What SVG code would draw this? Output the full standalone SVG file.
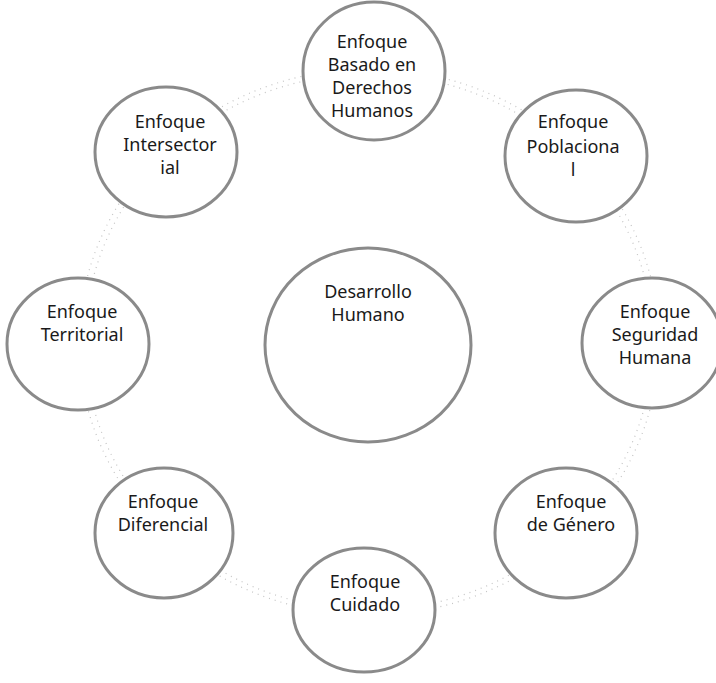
<svg xmlns="http://www.w3.org/2000/svg" width="716" height="683" viewBox="0 0 716 683">
<style>
.node{fill:#fff;stroke:#8a8a8a;stroke-width:3}
.lbl{font-family:"Noto Sans","Open Sans",sans-serif;font-size:18px;fill:#1a1a1a;text-anchor:middle}
.ring{fill:none;stroke:#c4c4c4;stroke-width:1.2;stroke-dasharray:1 5}
</style>
<rect width="716" height="683" fill="#fff"/>
<g id="connectors">
<ellipse class="ring" cx="369" cy="342" rx="284" ry="268"/>
<ellipse class="ring" cx="369" cy="342" rx="290" ry="273" stroke-dashoffset="3"/>
</g>
<g id="n-derechos">
<ellipse class="node" cx="374" cy="71" rx="71" ry="69"/>
<text class="lbl" x="372" y="48">Enfoque</text>
<text class="lbl" x="372" y="71">Basado en</text>
<text class="lbl" x="372" y="94">Derechos</text>
<text class="lbl" x="372" y="117">Humanos</text>
</g>
<g id="n-intersectorial">
<ellipse class="node" cx="166" cy="152" rx="71" ry="65"/>
<text class="lbl" x="170" y="128">Enfoque</text>
<text class="lbl" x="170" y="151">Intersector</text>
<text class="lbl" x="170" y="174">ial</text>
</g>
<g id="n-poblacional">
<ellipse class="node" cx="576" cy="156" rx="71" ry="66"/>
<text class="lbl" x="573" y="128">Enfoque</text>
<text class="lbl" x="573" y="153">Poblaciona</text>
<text class="lbl" x="573" y="176">l</text>
</g>
<g id="n-territorial">
<ellipse class="node" cx="78" cy="344" rx="71" ry="66"/>
<text class="lbl" x="82" y="318">Enfoque</text>
<text class="lbl" x="82" y="341">Territorial</text>
</g>
<g id="n-seguridad">
<ellipse class="node" cx="652" cy="343" rx="70" ry="65"/>
<text class="lbl" x="655" y="318">Enfoque</text>
<text class="lbl" x="655" y="341">Seguridad</text>
<text class="lbl" x="655" y="364">Humana</text>
</g>
<g id="n-desarrollo">
<ellipse class="node" cx="368" cy="345" rx="103" ry="97"/>
<text class="lbl" x="368" y="298">Desarrollo</text>
<text class="lbl" x="368" y="321">Humano</text>
</g>
<g id="n-diferencial">
<ellipse class="node" cx="164" cy="533" rx="69" ry="65"/>
<text class="lbl" x="163" y="508">Enfoque</text>
<text class="lbl" x="163" y="531">Diferencial</text>
</g>
<g id="n-genero">
<ellipse class="node" cx="566" cy="533" rx="71" ry="65"/>
<text class="lbl" x="571" y="508">Enfoque</text>
<text class="lbl" x="571" y="531">de Género</text>
</g>
<g id="n-cuidado">
<ellipse class="node" cx="364" cy="610" rx="71" ry="62"/>
<text class="lbl" x="365" y="588">Enfoque</text>
<text class="lbl" x="365" y="611">Cuidado</text>
</g>
</svg>
